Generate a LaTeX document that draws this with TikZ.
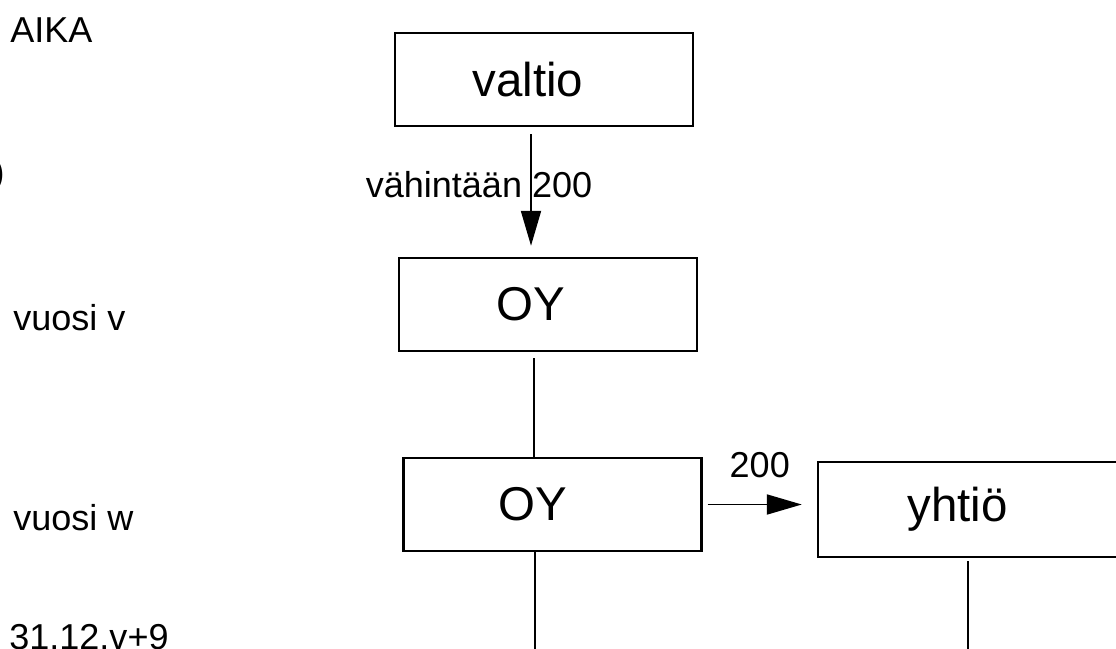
\documentclass[tikz,border=0pt]{standalone}
\usepackage{fontspec}
\setmainfont{Liberation Sans}
\usetikzlibrary{arrows.meta}

\begin{document}
\begin{tikzpicture}[
        box/.style={draw, line width=1.4pt, minimum width=5.96cm, minimum height=1.86cm, inner sep=0pt, font=\fontsize{27}{32}\selectfont},
        lbl/.style={inner sep=0pt, font=\fontsize{20.5}{24}\selectfont},
        conn/.style={line width=1.1pt},
        arr/.style={conn, -{Triangle[length=0.7cm, width=0.4cm]}}]
        \useasboundingbox (0,0) rectangle (22.32,-12.96);

        % time axis on the left
        \node[lbl, anchor=base west] (aika) at (0.2,-0.84) {AIKA};
        \node[lbl, anchor=base east] (paren) at (0.1,-3.68) {)};
        \node[lbl, anchor=base west] (yearv) at (0.26,-6.6) {vuosi v};
        \node[lbl, anchor=base west] (yearw) at (0.26,-10.6) {vuosi w};
        \node[lbl, anchor=base west] (deadline) at (0.18,-12.98) {31.12.v+9};

        \node[box] (valtio) at (10.88,-1.59) {valtio\rule{0.64cm}{0pt}};
        \node[box] (oy1) at (10.96,-6.09) {\raisebox{-0.09cm}{OY}\rule{0.68cm}{0pt}};
        \node[box] (oy2) at (11.05,-10.09) {\raisebox{-0.09cm}{OY}\rule{0.8cm}{0pt}};
        \node[box, minimum width=6.2cm, minimum height=1.9cm] (yhtio) at (19.46,-10.19) {yhtiö\rule{0.62cm}{0pt}};
        \coordinate (oyend) at (10.7,-13.3);
        \coordinate (yhend) at (19.36,-13.3);

        \draw[arr, shorten <=0.14cm, shorten >=0.22cm] ([xshift=-0.26cm]valtio.south) to node[lbl, pos=0.44, xshift=-1.04cm] (minamount) {vähintään 200} ([xshift=-0.26cm]valtio.south |- oy1.north);
        \draw[conn, shorten <=0.12cm] ([xshift=-0.28cm]oy1.south) to ([xshift=-0.28cm]oy1.south |- oy2.north);
        \draw[conn] ([xshift=-0.35cm]oy2.south) to ([xshift=-0.35cm]oy2.south |- oyend);
        \draw[arr, shorten <=0.1cm, shorten >=0.3cm] (oy2.east) to node[lbl, above=0.52cm] (amount) {200} (oy2.east -| yhtio.west);
        \draw[conn, shorten <=0.06cm] ([xshift=-0.1cm]yhtio.south) to ([xshift=-0.1cm]yhtio.south |- yhend);
    \end{tikzpicture}
\end{document}
